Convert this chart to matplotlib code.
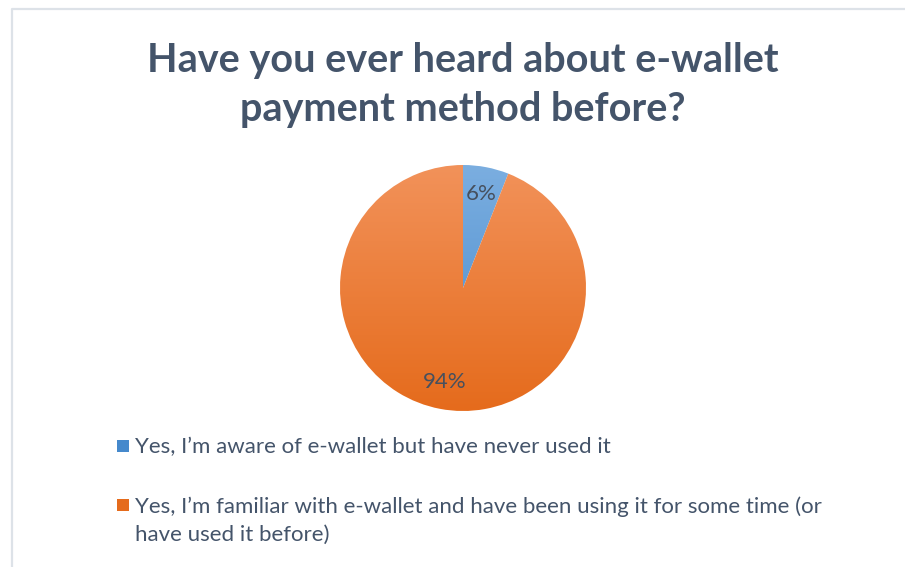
import numpy as np
import matplotlib.pyplot as plt
from matplotlib.colors import LinearSegmentedColormap
from matplotlib.patches import Rectangle

# survey answers
labels = ["Yes, I\u2019m aware of e-wallet but have never used it",
          "Yes, I\u2019m familiar with e-wallet and have been using it for some time (or\nhave used it before)"]
values = [6, 94]
title = "Have you ever heard about e-wallet\npayment method before?"

# (top, bottom) colours of the vertical gradient for each slice
grad = [("#7BAEE0", "#4589CC"), ("#F2925A", "#E56B1C")]
text_col = "#44546A"

W, H = 905, 567
fig = plt.figure(figsize=(W / 100, H / 100), dpi=100)
fig.patch.set_facecolor("white")

# chart frame
frame = fig.add_axes([0, 0, 1, 1])
frame.set_xlim(0, W)
frame.set_ylim(H, 0)
frame.axis("off")
frame.plot([11.5, 11.5, W + 5], [H + 5, 8.5, 8.5], color="#DDE2E8", lw=1.6)

fig.text(463 / W, 1 - 85 / H, title, ha="center", va="center", fontsize=28.5,
         fontweight="bold", color=text_col, family="Lato", linespacing=1.38)

cx, cy, r = 463, 288, 123
ax = fig.add_axes([(cx - r) / W, (H - cy - r) / H, 2 * r / W, 2 * r / H])
wedges, _, pcts = ax.pie(values, startangle=90, counterclock=False, radius=1,
                         autopct="%1.0f%%", pctdistance=0.78,
                         textprops=dict(fontsize=16, color="#46505E", family="Lato"),
                         wedgeprops=dict(linewidth=0))
ax.set_xlim(-1, 1)
ax.set_ylim(-1, 1)
ax.set_aspect("equal")

for w, (top, bot) in zip(wedges, grad):
    w.set_facecolor("none")
    cmap = LinearSegmentedColormap.from_list("g", [bot, top])
    img = ax.imshow(np.linspace(0, 1, 256).reshape(-1, 1), cmap=cmap, origin="lower",
                    extent=(-1, 1, -1, 1), aspect="auto", zorder=0)
    img.set_clip_path(w)
for t in pcts:
    t.set_zorder(5)

# legend drawn by hand so the long entry can wrap
ys = [446, 505]
for (top, bot), lab, y in zip(grad, labels, ys):
    frame.add_patch(Rectangle((117, y - 6), 12, 12, color=bot, lw=0))
    fig.text(135 / W, 1 - (y - 9) / H, lab, ha="left", va="top", fontsize=16,
             color=text_col, family="Lato", linespacing=1.5)

fig.savefig("out.png", dpi=100)
